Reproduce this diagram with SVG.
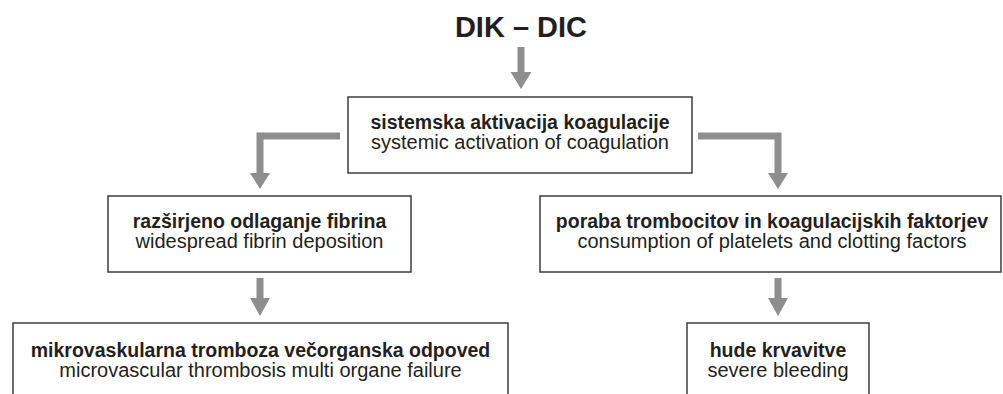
<svg xmlns="http://www.w3.org/2000/svg" width="1003" height="394" viewBox="0 0 1003 394">
<style>
.box{fill:#fff;stroke:#3c3c3c;stroke-width:1.5}
.b{font-family:"Liberation Sans",Arial,sans-serif;font-weight:bold;font-size:19.5px;fill:#231f20;text-anchor:middle}
.r{font-family:"Liberation Sans",Arial,sans-serif;font-size:20px;fill:#231f20;text-anchor:middle}
.t{font-family:"Liberation Sans",Arial,sans-serif;font-weight:bold;font-size:29px;fill:#231f20;text-anchor:middle}
.ln{fill:none;stroke:#8e8e8e;stroke-width:7}
.hd{fill:#8e8e8e}
</style>
<rect width="1003" height="394" fill="#fff"/>
<g id="title"><text class="t" x="521" y="37">DIK – DIC</text></g>
<g id="connectors">
<path class="ln" d="M521 47V73"/><polygon class="hd" points="510.5,72 531.5,72 521,89"/>
<path class="ln" d="M340 136H260V174"/><polygon class="hd" points="250,173 270,173 260,189"/>
<path class="ln" d="M698 136H778V174"/><polygon class="hd" points="768,173 788,173 778,189"/>
<path class="ln" d="M260 278V299"/><polygon class="hd" points="250,298 270,298 260,316"/>
<path class="ln" d="M778 278V299"/><polygon class="hd" points="768,298 788,298 778,316"/>
</g>
<g id="n1"><rect class="box" x="348" y="97" width="344" height="76"/>
<text class="b" x="520" y="129">sistemska aktivacija koagulacije</text>
<text class="r" x="520" y="149">systemic activation of coagulation</text></g>
<g id="n2"><rect class="box" x="108" y="196" width="303" height="76"/>
<text class="b" x="259.5" y="228">razširjeno odlaganje fibrina</text>
<text class="r" x="259.5" y="248">widespread fibrin deposition</text></g>
<g id="n3"><rect class="box" x="540" y="196" width="461" height="76"/>
<text class="b" x="772" y="228">poraba trombocitov in koagulacijskih faktorjev</text>
<text class="r" x="772" y="248">consumption of platelets and clotting factors</text></g>
<g id="n4"><rect class="box" x="13" y="323" width="495" height="80"/>
<text class="b" x="260.5" y="357">mikrovaskularna tromboza večorganska odpoved</text>
<text class="r" x="260.5" y="377">microvascular thrombosis multi organe failure</text></g>
<g id="n5"><rect class="box" x="687" y="323" width="182" height="80"/>
<text class="b" x="778" y="357">hude krvavitve</text>
<text class="r" x="778" y="377">severe bleeding</text></g>
</svg>
